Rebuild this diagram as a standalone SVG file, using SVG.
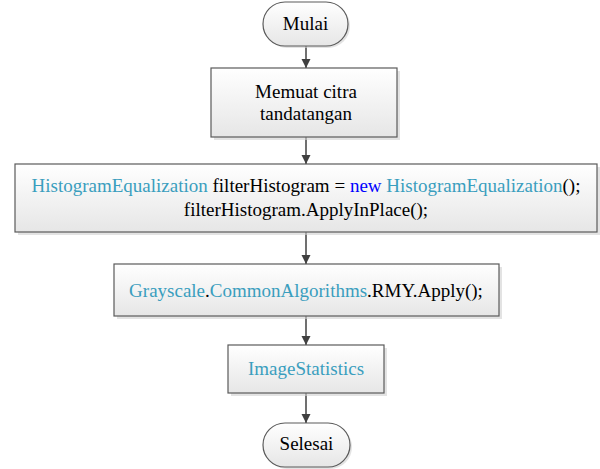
<svg xmlns="http://www.w3.org/2000/svg" width="600" height="469" viewBox="0 0 600 469">
<defs>
<linearGradient id="g" x1="0" y1="0" x2="0" y2="1">
<stop offset="0" stop-color="#ffffff"/>
<stop offset="1" stop-color="#e6e6e6"/>
</linearGradient>
<marker id="arr" markerWidth="10" markerHeight="10" refX="9" refY="5" orient="auto" markerUnits="userSpaceOnUse">
<path d="M0,0.5 L9,5 L0,9.5 Z" fill="#404040"/>
</marker>
<style>
.box{fill:url(#g);stroke:#5a5a5a;stroke-width:1.2}
.sh{fill:#d0d0d0;opacity:0.6}
text{font-family:"Liberation Serif","Times New Roman",serif;font-size:19px;fill:#000;text-anchor:middle}
.t{fill:#3a9ebe}
.k{fill:#0000ff}
.c{stroke:#404040;stroke-width:1.5;fill:none;marker-end:url(#arr)}
</style>
</defs>
<g id="connectors">
<line class="c" x1="306" y1="46" x2="306" y2="68"/>
<line class="c" x1="306" y1="137" x2="306" y2="164"/>
<line class="c" x1="306" y1="232" x2="306" y2="264"/>
<line class="c" x1="306" y1="316" x2="306" y2="345"/>
<line class="c" x1="306" y1="393" x2="306" y2="423"/>
</g>
<g id="mulai">
<rect class="sh" x="265" y="4" width="85" height="44" rx="22"/>
<rect class="box" x="263" y="2" width="85" height="44" rx="22"/>
<text x="305.5" y="30">Mulai</text>
</g>
<g id="memuat">
<rect class="sh" x="214" y="71" width="186" height="69"/>
<rect class="box" x="211" y="68" width="186" height="69"/>
<text x="306" y="98">Memuat citra</text>
<text x="306" y="120">tandatangan</text>
</g>
<g id="histogram">
<rect class="sh" x="18" y="167" width="582" height="68"/>
<rect class="box" x="15" y="164" width="582" height="68"/>
<text x="306" y="192"><tspan class="t">HistogramEqualization</tspan> filterHistogram = <tspan class="k">new</tspan> <tspan class="t">HistogramEqualization</tspan>();</text>
<text x="306" y="216">filterHistogram.ApplyInPlace();</text>
</g>
<g id="grayscale">
<rect class="sh" x="117" y="267" width="385" height="52"/>
<rect class="box" x="114" y="264" width="385" height="52"/>
<text x="306" y="297"><tspan class="t">Grayscale</tspan>.<tspan class="t">CommonAlgorithms</tspan>.RMY.Apply();</text>
</g>
<g id="imagestatistics">
<rect class="sh" x="231" y="348" width="156" height="48"/>
<rect class="box" x="228" y="345" width="156" height="48"/>
<text x="306" y="375" class="t">ImageStatistics</text>
</g>
<g id="selesai">
<rect class="sh" x="265" y="425" width="87" height="44" rx="22"/>
<rect class="box" x="263" y="423" width="87" height="44" rx="22"/>
<text x="306.5" y="450">Selesai</text>
</g>
</svg>
